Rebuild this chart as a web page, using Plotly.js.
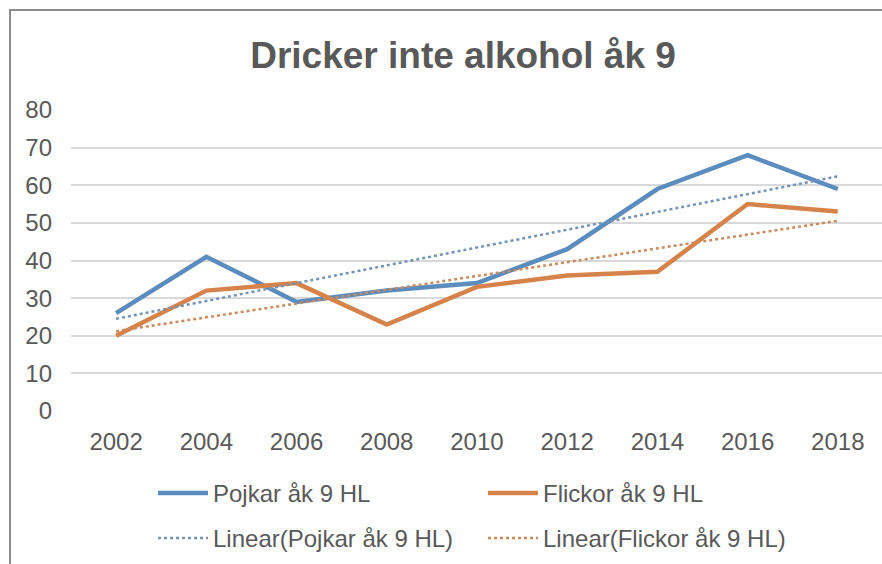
<!DOCTYPE html>
<html>
<head>
<meta charset="utf-8">
<script src="https://cdn.plot.ly/plotly-3.0.1.min.js"></script>
<style>
html,body{margin:0;padding:0;background:#fff;overflow:hidden;}
#frame{position:absolute;left:9px;top:9px;width:900px;height:600px;border:2px solid #8a8a8a;box-sizing:border-box;}
#chart{position:absolute;left:0;top:0;width:882px;height:564px;}
</style>
</head>
<body>
<div id="frame"></div>
<div id="chart"></div>
<script>
const years = ['2002','2004','2006','2008','2010','2012','2014','2016','2018'];
const pojkar = [26,41,29,32,34,43,59,68,59];
const flickor = [20,32,34,23,33,36,37,55,53];
const yTicks = [0,10,20,30,40,50,60,70,80];
const seriesNames = ['Pojkar åk 9 HL','Flickor åk 9 HL'];

function linFit(vals){
  const n = vals.length;
  const xs = vals.map((_,i)=>i);
  const mx = xs.reduce((a,b)=>a+b,0)/n;
  const my = vals.reduce((a,b)=>a+b,0)/n;
  let sxy=0,sxx=0;
  for(let i=0;i<n;i++){sxy+=(xs[i]-mx)*(vals[i]-my);sxx+=(xs[i]-mx)*(xs[i]-mx);}
  const b = sxy/sxx, a = my-b*mx;
  return xs.map(x=>a+b*x);
}

const blue = '#5b8cbe', orange = '#d5834a';
const font = 'Liberation Sans, Arial, sans-serif';

const traces = [
  {x:years,y:pojkar,type:'scatter',mode:'lines',name:seriesNames[0],legend:'legend',line:{color:blue,width:4.5}},
  {x:years,y:flickor,type:'scatter',mode:'lines',name:seriesNames[1],legend:'legend',line:{color:orange,width:4.5}},
  {x:years,y:linFit(pojkar),type:'scatter',mode:'lines',name:'Linear('+seriesNames[0]+')',legend:'legend2',line:{color:'#7394b5',width:2.5,dash:'dot'}},
  {x:years,y:linFit(flickor),type:'scatter',mode:'lines',name:'Linear('+seriesNames[1]+')',legend:'legend2',line:{color:'#c98a5c',width:2.5,dash:'dot'}}
];

const legendBase = {orientation:'h',xref:'container',yref:'container',x:153/882,xanchor:'left',yanchor:'top',
          entrywidth:265,entrywidthmode:'pixels',font:{size:24,color:'#595959',family:font},bgcolor:'rgba(0,0,0,0)',
          itemwidth:50};

const layout = {
  width:882,height:564,
  paper_bgcolor:'rgba(0,0,0,0)',plot_bgcolor:'rgba(0,0,0,0)',
  margin:{l:71,r:0,t:110,b:153},
  font:{family:font,color:'#595959',size:24},
  title:{text:'<b>Dricker inte alkohol åk 9</b>',font:{family:font,size:37,color:'#595959'},
         x:0.525,xanchor:'center',xref:'container',y:1-55/564,yanchor:'middle',yref:'container'},
  xaxis:{type:'category',range:[-0.5,8.49],showgrid:false,zeroline:false,showline:false,
         ticks:'',tickfont:{size:24,color:'#595959'},ticklabelstandoff:14,fixedrange:true},
  yaxis:{range:[0,80],tickvals:yTicks,ticktext:yTicks.map(String),showgrid:true,gridcolor:'#d9d9d9',gridwidth:2,
         zeroline:false,showline:false,ticks:'',tickfont:{size:24,color:'#595959'},ticklabelstandoff:18,fixedrange:true},
  showlegend:true,
  legend:Object.assign({},legendBase,{y:1-471/564}),
  legend2:Object.assign({},legendBase,{y:1-516/564})
};

Plotly.newPlot('chart',traces,layout,{staticPlot:true,displayModeBar:false});
</script>
</body>
</html>
